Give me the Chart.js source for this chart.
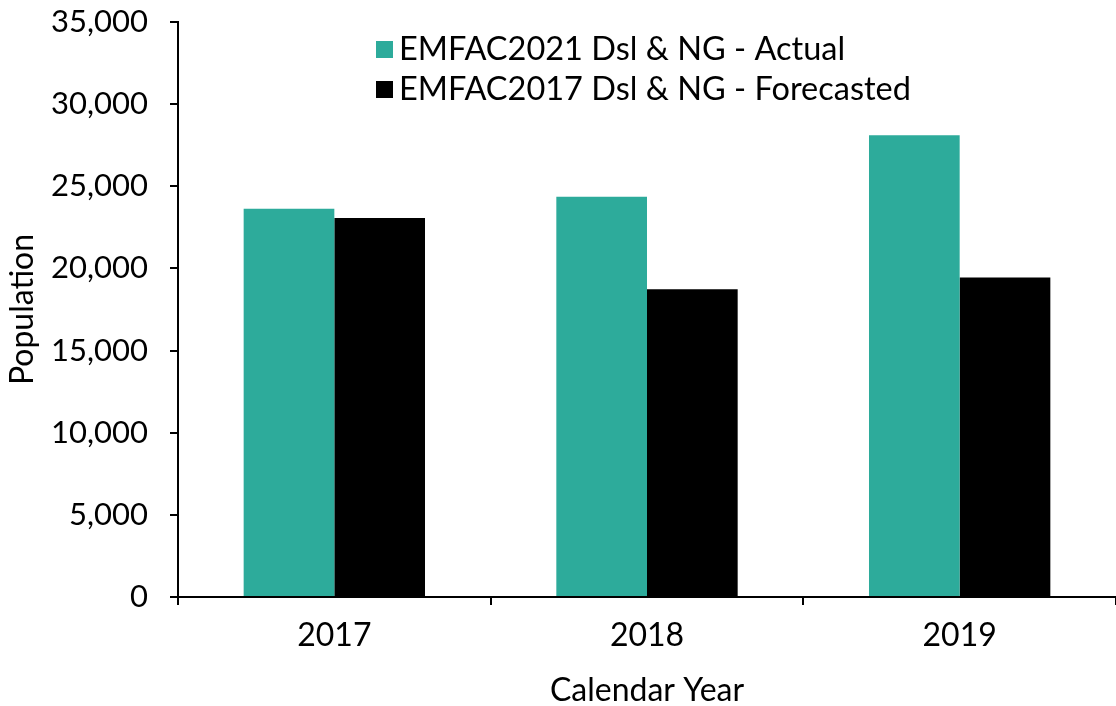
<!DOCTYPE html>
<html>
<head>
<meta charset="utf-8">
<script src="https://cdn.jsdelivr.net/npm/chart.js@4"></script>
<style>
  body { margin: 0; background: #fff; }
</style>
</head>
<body>
<canvas id="chart" width="1116" height="706"></canvas>
<script>
const years = ['2017', '2018', '2019'];
const actual = [23640, 24370, 28110];
const forecast = [23070, 18740, 19450];
const seriesNames = ['EMFAC2021 Dsl & NG - Actual', 'EMFAC2017 Dsl & NG - Forecasted'];
const teal = '#2DAB9B';

const fontFamily = 'Lato, "Noto Sans", sans-serif';

// legend sits inside the plot, so draw it by hand
const innerLegend = {
    id: 'innerLegend',
    afterDraw(chart) {
        const ctx = chart.ctx;
        ctx.save();
        ctx.font = '32.5px ' + fontFamily;
        ctx.textBaseline = 'middle';
        ctx.textAlign = 'left';
        chart.data.datasets.forEach((ds, i) => {
            const y = 49 + i * 40;
            ctx.fillStyle = ds.backgroundColor;
            ctx.fillRect(376, y - 8, 17, 17);
            ctx.fillStyle = '#000';
            ctx.fillText(ds.label, 399, y + 1);
        });
        ctx.restore();
    }
};

const ctx = document.getElementById('chart').getContext('2d');
new Chart(ctx, {
    type: 'bar',
    data: {
        labels: years,
        datasets: [
            { label: seriesNames[0], data: actual, backgroundColor: teal },
            { label: seriesNames[1], data: forecast, backgroundColor: '#000000' }
        ]
    },
    options: {
        responsive: false,
        animation: false,
        layout: { padding: { top: 22, right: 0, left: 0, bottom: 0 } },
        datasets: { bar: { categoryPercentage: 0.58, barPercentage: 1.0 } },
        plugins: {
            legend: { display: false },
            tooltip: { enabled: false }
        },
        scales: {
            x: {
                grid: { drawOnChartArea: false, tickLength: 8, color: '#000', lineWidth: 2 },
                border: { color: '#000', width: 2 },
                ticks: { color: '#000', font: { family: fontFamily, size: 32 }, padding: 11 },
                title: {
                    display: true, text: 'Calendar Year', color: '#000',
                    font: { family: fontFamily, size: 32 }, padding: { top: 18, bottom: -4 }
                },
                afterFit(scale) { scale.height = 109; }
            },
            y: {
                min: 0, max: 35000,
                grid: { drawOnChartArea: false, tickLength: 8, color: '#000', lineWidth: 2 },
                border: { color: '#000', width: 2 },
                ticks: {
                    stepSize: 5000, color: '#000', padding: 22,
                    font: { family: fontFamily, size: 31 },
                    callback: v => v.toLocaleString('en-US')
                },
                title: {
                    display: true, text: 'Population', color: '#000',
                    font: { family: fontFamily, size: 32 }, padding: { top: 3, bottom: 0 }
                },
                afterFit(scale) {
                    scale.width = 178;
                    scale.paddingTop = 0;
                    scale.paddingBottom = 0;
                }
            }
        }
    },
    plugins: [innerLegend]
});
</script>
</body>
</html>
